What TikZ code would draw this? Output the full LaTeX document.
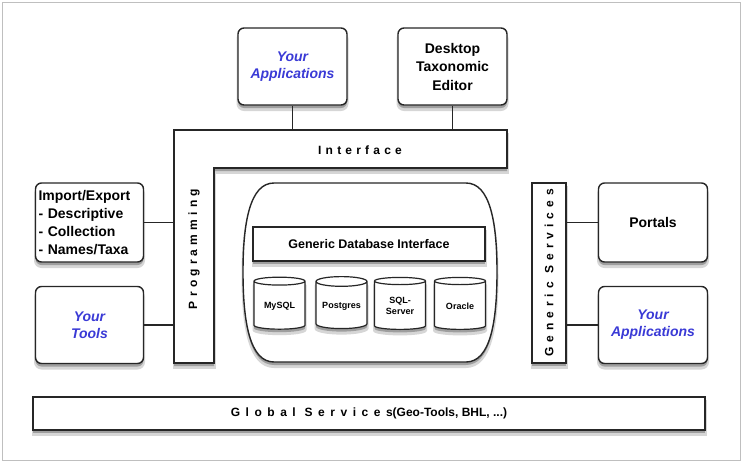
\documentclass[tikz,border=0pt]{standalone}
\usepackage{xcolor}
\usepackage{fontspec}
\setmainfont{Liberation Sans}
\usepackage{tikz}
\usetikzlibrary{shapes.geometric}
\definecolor{youblue}{RGB}{58,58,214}

\begin{document}
\begin{tikzpicture}[x=1pt, y=-1pt,
				thick,
				softshadow/.style={preaction={fill=black!16, draw=black!16, line width=3pt, transform canvas={yshift=-4.5pt}},
					preaction={fill=black!38, draw=none, transform canvas={yshift=-3pt}}},
				box/.style={draw=black!85, line width=1.4pt, fill=white, rounded corners=6pt, softshadow,
					minimum width=109pt, minimum height=77pt, align=center,
					font=\fontsize{14}{18.5}\selectfont\bfseries},
				yours/.style={box, text=youblue, font=\fontsize{14}{17}\selectfont\bfseries\itshape},
				bar/.style={draw=black!85, line width=1.4pt, fill=white, softshadow, inner sep=0pt},
				spaced/.style={font=\fontsize{12}{14}\selectfont\bfseries\addfontfeature{LetterSpace=35}},
				widespaced/.style={font=\fontsize{12}{14}\selectfont\bfseries\addfontfeature{LetterSpace=42}},
				db/.style={cylinder, shape border rotate=90, aspect=0.24, draw=black!85, line width=1.2pt,
					fill=white, softshadow, minimum width=51pt, minimum height=52pt, inner sep=1pt, align=center,
					font=\fontsize{9}{11}\selectfont\bfseries},
				link/.style={draw=black!85, line width=1.2pt}]
				\useasboundingbox (0,0) rectangle (743,463);
				\draw[black!25, line width=1pt] (2,2) rectangle (740,460);

				\draw[bar] (174,130) -- (507,130) -- (507,168) -- (214,168) -- (214,363) -- (174,363) -- cycle;
				\node at (360,150) (intf) [spaced] {Interface};
				\node at (194,249) (prog) [spaced, rotate=90] {Programming};
				\coordinate (ltop) at (174,130);
				\coordinate (lleft) at (174,130);

				\draw[bar] (274,183) -- (466,183) .. controls (490,183) and (497,222) .. (497,272)
					.. controls (497,323) and (490,362) .. (466,362) -- (274,362)
					.. controls (250,362) and (243,323) .. (243,272)
					.. controls (243,222) and (250,183) .. (274,183) -- cycle;

				\node at (292.5,66.5) (yapps) [yours] {Your\\Applications};
				\node at (452.5,66.5) (editor) [box] {Desktop\\Taxonomic\\Editor};
				\node at (89.5,222.5) (impexp) [box, minimum width=108pt, minimum height=79pt, text width=102pt, align=left, inner xsep=3pt,
					font=\fontsize{14}{18}\selectfont\bfseries] {Import/Export\\- Descriptive\\- Collection\\- Names/Taxa};
				\node at (89.5,325) (ytools) [yours, minimum width=108pt] {Your\\Tools};
				\node at (653,222.5) (portals) [box, minimum height=79pt] {Portals};
				\node at (653,325) (yapps2) [yours] {Your\\Applications};

				\node at (549,273) (gserv) [bar, minimum width=34pt, minimum height=180pt] {};
				\node at (549,273) (gservtxt) [widespaced, rotate=90] {Generic Services};

				\node at (369,244) (gdbi) [bar, minimum width=232pt, minimum height=34pt, font=\fontsize{12.5}{14}\selectfont\bfseries] {Generic Database Interface};
				\node at (279.5,306) (mysql) [db] {MySQL};
				\node at (341.5,306) (pgres) [db] {Postgres};
				\node at (400,306) (sqls) [db] {SQL-\\Server};
				\node at (460,306) (oracle) [db] {Oracle};

				\node at (369,413.5) (glob) [bar, minimum width=672pt, minimum height=33pt, font=\fontsize{12}{14}\selectfont\bfseries]
					{{\addfontfeature{LetterSpace=46}Global Services}(Geo-Tools, BHL, ...)};

				\draw[link] (yapps.south) -- (yapps.south |- ltop);
				\draw[link] (editor.south) -- (editor.south |- ltop);
				\draw[link] (impexp.east) -- (impexp.east -| lleft);
				\draw[link] (ytools.east) -- (ytools.east -| lleft);
				\draw[link] (portals.west) -- (portals.west -| gserv.east);
				\draw[link] (yapps2.west) -- (yapps2.west -| gserv.east);
			\end{tikzpicture}
\end{document}
